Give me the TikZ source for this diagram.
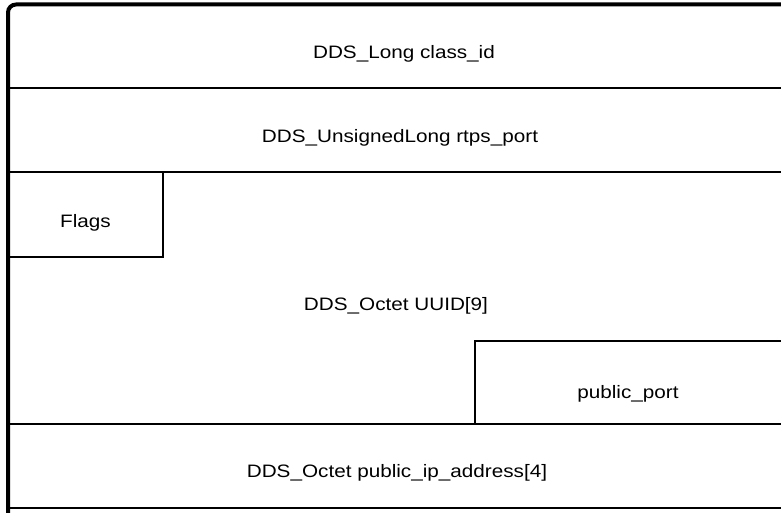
\documentclass[tikz,border=0pt]{standalone}
\usepackage{fontspec}
\setmainfont{Liberation Sans}[FakeStretch=1.15]
\begin{document}
\begin{tikzpicture}[x=1pt,y=-1pt,
  frame/.style={line width=4pt,rounded corners=8pt},
  sep/.style={line width=2pt},
  lbl/.style={anchor=base,inner sep=0pt,font=\fontsize{18}{21}\selectfont,text=black}]
\useasboundingbox (0,0) rectangle (781,513);
% outer frame (open to the right and bottom)
\draw[frame] (8,513) -- (8,4.5) -- (781,4.5);
% row separators
\draw[sep] (8,88.5) -- (781,88.5);
\draw[sep] (8,172.5) -- (781,172.5);
\draw[sep] (8,423.5) -- (781,423.5);
\draw[sep] (8,507.5) -- (781,507.5);
% Flags box
\draw[sep] (8,257) -- (163,257) -- (163,172.5);
% public_port box
\draw[sep] (475,423.5) -- (475,341) -- (781,341);
% labels
\node[lbl] (classid) at (404,58.5) {DDS\_Long class\_id};
\node[lbl] (rtps) at (400,142.5) {DDS\_UnsignedLong rtps\_port};
\node[lbl] (flags) at (85.5,227) {Flags};
\node[lbl] (uuid) at (396,310) {DDS\_Octet UUID[9]};
\node[lbl] (pport) at (628,398) {public\_port};
\node[lbl] (ipaddr) at (397,477.5) {DDS\_Octet public\_ip\_address[4]};
\end{tikzpicture}
\end{document}
